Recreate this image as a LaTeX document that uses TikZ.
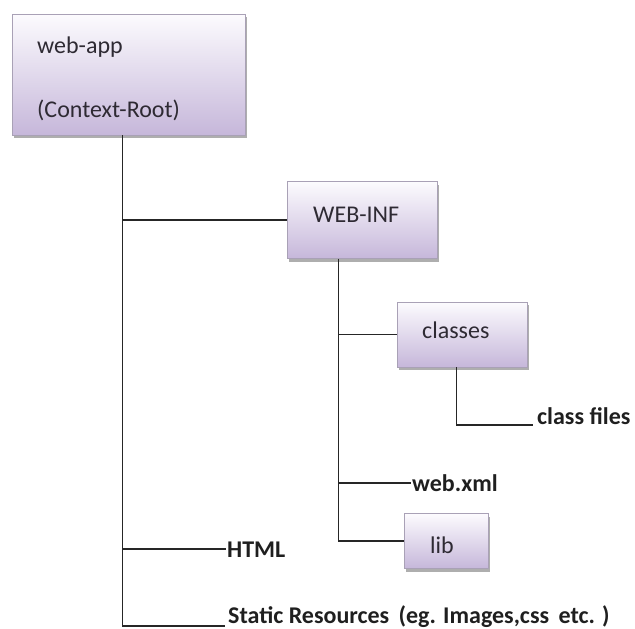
\documentclass[tikz,border=0pt]{standalone}
\usepackage{fontspec}
\setmainfont{Carlito}
\usetikzlibrary{shadows,calc}
\definecolor{boxtop}{HTML}{FCFBFE}
\definecolor{boxbot}{HTML}{C6B7DA}
\definecolor{boxline}{HTML}{A9A1B6}
\definecolor{txt}{HTML}{2E2A33}
\tikzset{
  folder/.style={draw=boxline, line width=0.8pt, top color=boxtop, bottom color=boxbot,
    drop shadow={shadow xshift=2pt, shadow yshift=-3pt, fill=black!45, opacity=0.7},
    inner sep=0pt, minimum width=#1},
  lbl/.style={font=\fontsize{24}{28}\selectfont, text=txt, inner sep=0pt, anchor=base west},
  leaf/.style={font=\fontsize{24}{28}\selectfont\bfseries, text=black!88, inner sep=0pt, anchor=base west},
  conn/.style={line width=1.7pt, black!85},
}
\begin{document}
\begin{tikzpicture}[x=1pt,y=-1pt]
\useasboundingbox (0,0) rectangle (635,629);
% boxes
\node[folder=233pt, minimum height=121pt] (webapp) at (128.5,74.5) {};
\node[folder=150pt, minimum height=77pt] (webinf) at (362,220) {};
\node[folder=130pt, minimum height=65pt] (classes) at (462,334.5) {};
\node[folder=84pt, minimum height=55pt] (lib) at (446,541) {};
% box texts
\node[lbl] (tweb) at (37,53) {web-app};
\node[lbl] (troot) at (37,117) {(Context-Root)};
\node[lbl] (tinf) at (313,222) {WEB-INF};
\node[lbl] (tcls) at (422,338) {classes};
\node[lbl] (tlib) at (430,553) {lib};
% leaves
\node[leaf] (cfiles) at (537,424) {class files};
\node[leaf] (webxml) at (412,491) {web.xml};
\node[leaf] (html) at (227,557) {HTML};
\node[leaf] (static) at (228,623) {Static Resources\, (eg. Images,css\, etc. )};
% connector anchors
\coordinate (t0) at ($(webapp.south west)+(111,0)$);
\coordinate (w0) at ($(webinf.south west)+(52,0)$);
\coordinate (c0) at ($(classes.south west)+(60,0)$);
\coordinate (stend) at ($(static.base west)+(-3,3)$);
\coordinate (cfend) at ($(cfiles.base west)+(-4,1)$);
% connectors
\draw[conn] (t0) |- (stend);
\draw[conn] (t0 |- webinf.west) -- (webinf.west);
\draw[conn] (t0 |- html.west) -- ([xshift=-1pt]html.west);
\draw[conn] (w0) |- (lib.west);
\draw[conn] (w0 |- classes.west) -- (classes.west);
\draw[conn] (w0 |- webxml.west) -- ([xshift=-1pt]webxml.west);
\draw[conn] (c0) |- (cfend);
\end{tikzpicture}
\end{document}
